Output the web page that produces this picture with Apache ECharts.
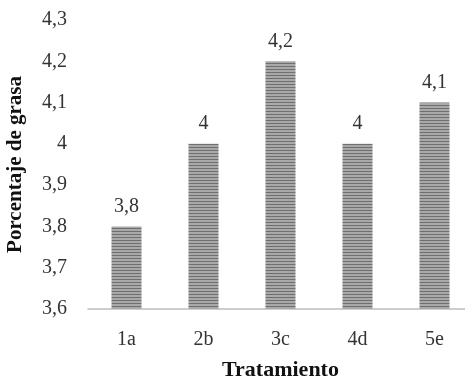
<!DOCTYPE html>
<html>
<head>
<meta charset="utf-8">
<script src="https://cdn.jsdelivr.net/npm/echarts@6/dist/echarts.min.js"></script>
<style>
html,body{margin:0;padding:0;background:#fff;}
#chart{width:465px;height:379px;}
</style>
</head>
<body>
<div id="chart"></div>
<script>
const categories = ['1a', '2b', '3c', '4d', '5e'];
const grasa = [3.8, 4, 4.2, 4, 4.1];
const yMin = 3.6, yMax = 4.3, yStep = 0.1;

// rayas horizontales de las barras
function stripes() {
    const c = document.createElement('canvas');
    c.width = 4; c.height = 3;
    const ctx = c.getContext('2d');
    ctx.fillStyle = '#a9a9a9';
    ctx.fillRect(0, 0, 4, 3);
    ctx.fillStyle = '#6f6f6f';
    ctx.fillRect(0, 0, 4, 1);
    return c;
}

const coma = v => String(Math.round(v * 10) / 10).replace('.', ',');
const font = '"Liberation Serif", "Times New Roman", serif';

const chart = echarts.init(document.getElementById('chart'));
chart.setOption({
    animation: false,
    textStyle: { fontFamily: font },
    grid: { left: 88, right: -8, top: 20, bottom: 70, containLabel: false, outerBoundsMode: 'none' },
    xAxis: {
        type: 'category',
        data: categories,
        name: 'Tratamiento',
        nameLocation: 'middle',
        nameGap: 50,
        nameTextStyle: { fontFamily: font, fontSize: 22, fontWeight: 'bold', color: '#111' },
        axisLine: { lineStyle: { color: '#bdbdbd', width: 1.5 } },
        axisTick: { show: false },
        axisLabel: { fontFamily: font, fontSize: 20, color: '#333', margin: 21 }
    },
    yAxis: {
        type: 'value',
        min: yMin,
        max: yMax,
        interval: yStep,
        name: 'Porcentaje de grasa',
        nameLocation: 'middle',
        nameGap: 62,
        nameTextStyle: { fontFamily: font, fontSize: 21, fontWeight: 'bold', color: '#111' },
        axisLine: { show: false },
        axisTick: { show: false },
        splitLine: { show: false },
        axisLabel: { fontFamily: font, fontSize: 20, color: '#333', margin: 21, formatter: coma }
    },
    series: [{
        type: 'bar',
        data: grasa,
        barWidth: 30,
        itemStyle: { color: { image: stripes(), repeat: 'repeat' } },
        label: {
            show: true,
            position: 'top',
            distance: 10,
            fontFamily: font,
            fontSize: 20,
            color: '#333',
            formatter: p => coma(p.value)
        }
    }]
});
</script>
</body>
</html>
